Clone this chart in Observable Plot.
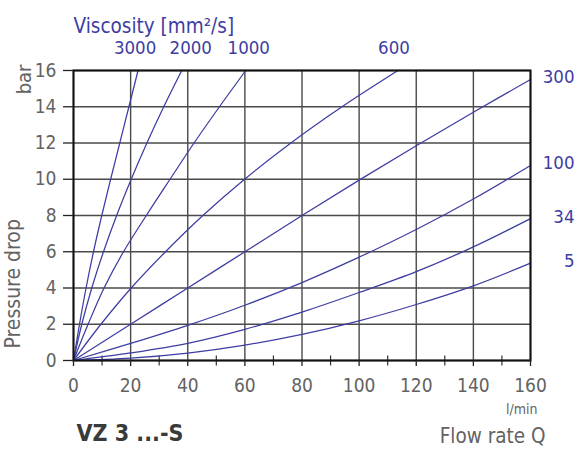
<!DOCTYPE html>
<html><head><meta charset="utf-8">
<script src="https://cdn.jsdelivr.net/npm/d3@7"></script>
<script src="https://cdn.jsdelivr.net/npm/@observablehq/plot@0.6"></script>
<style>body{margin:0;background:#fff}</style>
</head><body><div id="chart"></div>
<script>
const viscosities = ["3000","2000","1000","600","300","100","34","5"];
const pSteps = [0,2,4,6,8,10,12,14,16];
const q3000 = [0,2.1,4.4,7.0,9.9,13.0,16.2,19.4,22.6];
const q2000 = [0,2.9,6.4,10.5,15.1,20.2,25.7,31.6,37.9];
const q1000 = [0,5.1,10.7,17.5,25.5,33.8,42.2,51.1,60.3];
const q600  = [0,9.6,20.2,32.2,45.3,59.9,76.1,94.0,113.6];
const qWide = [0,20,40,60,80,100,120,140,160];
const p300  = [0,2,4,6,8,9.95,11.85,13.7,15.5];
const p100  = [0,0.94,1.94,3.05,4.3,5.7,7.23,8.91,10.76];
const p34   = [0,0.42,0.95,1.72,2.67,3.75,4.9,6.27,7.83];
const p5    = [0,0.13,0.41,0.85,1.44,2.19,3.09,4.12,5.37];
const xTicks = [0,20,40,60,80,100,120,140,160];
const xMinor = [10,30,50,70,90,110,130,150];
const yTicks = [0,2,4,6,8,10,12,14,16];

const qs = [q3000,q2000,q1000,q600,qWide,qWide,qWide,qWide];
const ps = [pSteps,pSteps,pSteps,pSteps,p300,p100,p34,p5];
const series = viscosities.map((v,i) => ({v, q: qs[i], p: ps[i]}));
const rows = series.flatMap(s => s.q.map((q,j) => ({v: s.v, q, p: s.p[j]})));
const ends = series.map(s => ({v: s.v, q: s.q[s.q.length-1], p: s.p[s.p.length-1]}));
const topEnds = ends.slice(0,4);
const rightEnds = ends.slice(4);

const BLUE = "#3d3da3";
const GRAY = "#636363";
const FONT = "'DejaVu Sans Condensed','Liberation Sans Narrow','Roboto',sans-serif";
const topShift = [-3, 9, 3, -4];

const chart = Plot.plot({
  width: 584, height: 450,
  marginLeft: 73, marginRight: 54, marginTop: 70, marginBottom: 90,
  style: {fontFamily: FONT, background: "#fff", overflow: "visible"},
  x: {domain: [0,160]},
  y: {domain: [0,16]},
  marks: [
    Plot.gridY(yTicks, {stroke: "#4a4a4a", strokeOpacity: 1, strokeWidth: 1.4}),
    Plot.gridX(xTicks, {stroke: "#4a4a4a", strokeOpacity: 1, strokeWidth: 1.4}),
    Plot.ruleX(xMinor, {y1: -0.3, y2: 0.25, stroke: "#333", strokeWidth: 1.2}),
    Plot.line(rows, {x: "q", y: "p", z: "v", stroke: BLUE, strokeWidth: 1.25, curve: "catmull-rom"}),
    Plot.frame({stroke: "#111", strokeWidth: 2}),
    Plot.axisY(yTicks, {label: null, tickSize: 10, tickPadding: 7, fontSize: 19, stroke: "#222", strokeWidth: 1.3, fill: GRAY}),
    Plot.axisX(xTicks, {label: null, tickSize: 6, tickPadding: 12, fontSize: 19, stroke: "#222", strokeWidth: 1.3, fill: GRAY}),
    ...topEnds.map((d,i) => Plot.text([d], {x: "q", y: "p", text: "v", dx: topShift[i], dy: -22, fill: BLUE, fontSize: 18.5})),
    Plot.text(rightEnds, {x: "q", y: "p", text: "v", textAnchor: "end", dx: 44, dy: -2, fill: BLUE, fontSize: 18.5}),
    Plot.text(["Viscosity [mm²/s]"], {text: d => d, frameAnchor: "top-left", textAnchor: "start", dy: -52, fill: BLUE, fontSize: 20.5}),
    Plot.text(["bar"], {text: d => d, frameAnchor: "top-left", textAnchor: "end", rotate: -90, dx: -57, dy: -6, fill: GRAY, fontSize: 20}),
    Plot.text(["Pressure drop"], {text: d => d, frameAnchor: "bottom-left", textAnchor: "start", rotate: -90, dx: -54, dy: -12, fill: GRAY, fontSize: 21}),
    Plot.text(["l/min"], {text: d => d, frameAnchor: "bottom-right", textAnchor: "end", dx: 7, dy: 53, fill: GRAY, fontSize: 14}),
    Plot.text(["Flow rate Q"], {text: d => d, frameAnchor: "bottom-right", textAnchor: "end", dx: 15, dy: 82, fill: GRAY, fontSize: 20.5}),
    Plot.text(["VZ 3 ...-S"], {text: d => d, frameAnchor: "bottom-left", textAnchor: "start", dx: 3, dy: 80, fill: "#3a3a3a", fontSize: 23, fontWeight: "bold"})
  ]
});
document.getElementById("chart").appendChild(chart);
</script>
</body></html>
